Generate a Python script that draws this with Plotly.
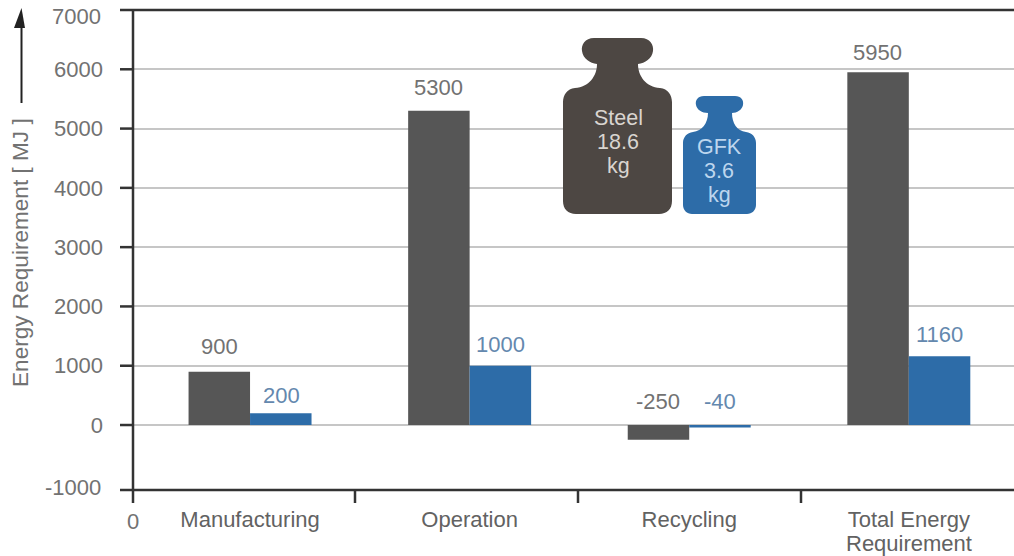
import plotly.graph_objects as go

# Energy requirement per life-cycle phase, in MJ
categories = ["Manufacturing", "Operation", "Recycling", "Total Energy"]
steel_values = [900, 5300, -250, 5950]
gfk_values = [200, 1000, -40, 1160]
inner_ticks = [6000, 5000, 4000, 3000, 2000, 1000, 0]

WIDTH, HEIGHT = 1014, 556
LEFT, TOP, BOTTOM = 133, 10, 490
FONT = "Liberation Sans"
GREY_BAR, BLUE_BAR = "#565656", "#2d6ca8"
AXIS = "#333333"
TEXT = "#727272"
DARK_TEXT = "#626262"
BLUE_TEXT = "#6488ae"
SIZE = 22


def px(x):
    return (x - LEFT) / (WIDTH - LEFT)


def py(y):
    return (BOTTOM - y) / (BOTTOM - TOP)


def weight_path(points):
    """Build an SVG path in paper coordinates from pixel-style segments."""
    parts = []
    for cmd, *coords in points:
        mapped = []
        for i in range(0, len(coords), 2):
            mapped.append(f"{px(coords[i]):.5f},{py(coords[i + 1]):.5f}")
        parts.append(cmd + " " + " ".join(mapped))
    return " ".join(parts) + " Z"


steel_shape = [
    ("M", 594, 38), ("L", 641, 38), ("C", 650, 38, 654, 45, 653, 51),
    ("C", 652, 59, 645, 63, 638, 64), ("C", 638, 76, 646, 87, 660, 88),
    ("C", 668, 89, 672, 95, 672, 102), ("L", 672, 201),
    ("C", 672, 209, 667, 214, 659, 214), ("L", 576, 214),
    ("C", 568, 214, 563, 209, 563, 201), ("L", 563, 102),
    ("C", 563, 95, 567, 89, 575, 88), ("C", 589, 87, 597, 76, 597, 64),
    ("C", 590, 63, 583, 59, 582, 51), ("C", 581, 45, 585, 38, 594, 38),
]
gfk_shape = [
    ("M", 704, 96), ("L", 735, 96), ("C", 741, 96, 744, 100, 743, 105),
    ("C", 742, 110, 737, 113, 732, 113), ("C", 732, 123, 737, 131, 746, 132),
    ("C", 752, 133, 756, 137, 756, 143), ("L", 756, 205),
    ("C", 756, 210, 752, 214, 747, 214), ("L", 692, 214),
    ("C", 687, 214, 683, 210, 683, 205), ("L", 683, 143),
    ("C", 683, 137, 687, 133, 693, 132), ("C", 702, 131, 708, 123, 708, 113),
    ("C", 702, 113, 697, 110, 696, 105), ("C", 695, 100, 698, 96, 704, 96),
]

fig = go.Figure()
fig.add_bar(x=categories, y=steel_values, name="Steel", marker_color=GREY_BAR, marker_line_width=0)
fig.add_bar(x=categories, y=gfk_values, name="GFK", marker_color=BLUE_BAR, marker_line_width=0)

shapes = [
    # frame: top rule, bottom rule and the vertical axis with its lower stub
    dict(type="line", xref="paper", yref="paper", x0=px(120), x1=1, y0=1, y1=1,
         line=dict(color=AXIS, width=2.5)),
    dict(type="line", xref="paper", yref="paper", x0=px(120), x1=1, y0=0, y1=0,
         line=dict(color=AXIS, width=2.5)),
    dict(type="line", xref="paper", yref="paper", x0=0, x1=0, y0=py(503), y1=1,
         line=dict(color=AXIS, width=2.5)),
    # upward arrow shaft next to the axis title
    dict(type="line", xref="paper", yref="paper", x0=px(21.5), x1=px(21.5), y0=py(103), y1=py(22),
         line=dict(color="#222222", width=2)),
    dict(type="path", xref="paper", yref="paper", line_width=0, fillcolor="#222222",
         path=weight_path([("M", 21.5, 8), ("L", 25, 28), ("L", 14, 28)])),
    # weight icons
    dict(type="path", xref="paper", yref="paper", fillcolor="#4d4743", line_width=0,
         path=weight_path(steel_shape), layer="above"),
    dict(type="path", xref="paper", yref="paper", fillcolor="#2d6ca8", line_width=0,
         path=weight_path(gfk_shape), layer="above"),
]
# short tick stubs left of the axis
for v in inner_ticks:
    shapes.append(dict(type="line", xref="paper", yref="y", x0=px(120), x1=0, y0=v, y1=v,
                       line=dict(color=AXIS, width=2.5)))
# separators between the phases on the bottom rule
for sep in [355, 578, 801]:
    shapes.append(dict(type="line", xref="paper", yref="paper", x0=px(sep), x1=px(sep),
                       y0=py(503), y1=0, line=dict(color=AXIS, width=2.5)))

annotations = []


def value_label(cat, value, shift, color, rise):
    annotations.append(dict(x=cat, y=max(value, 0), xref="x", yref="y", text=str(value),
                            xshift=shift, yshift=rise, showarrow=False,
                            xanchor="center", yanchor="middle",
                            font=dict(family=FONT, size=SIZE, color=color)))


rises_steel = [25, 23, 24, 20]
rises_gfk = [18, 21, 24, 22]
for cat, s, g, rs, rg in zip(categories, steel_values, gfk_values, rises_steel, rises_gfk):
    value_label(cat, s, -31, TEXT, rs)
    value_label(cat, g, 31, BLUE_TEXT, rg)


def free_text(x, y, text, color=TEXT, size=SIZE, angle=0, anchor="center"):
    annotations.append(dict(x=px(x), y=py(y), xref="paper", yref="paper", text=text, showarrow=False,
                            textangle=angle, xanchor=anchor, yanchor="middle",
                            font=dict(family=FONT, size=size, color=color)))


free_text(103, 17, "7000", anchor="right")
free_text(103, 487, "-1000", anchor="right")
free_text(133, 521, "0")
free_text(909, 543, "Requirement", color=DARK_TEXT)
free_text(20, 253, "Energy Requirement [ MJ ]", size=22.6, angle=-90)
for i, line in enumerate(["Steel", "18.6", "kg"]):
    free_text(618, 118 + 24 * i, line, color="#d9d5d0", size=21.5)
for i, line in enumerate(["GFK", "3.6", "kg"]):
    free_text(719, 147 + 24 * i, line, color="#bdd6ee", size=21.5)

fig.update_layout(
    width=WIDTH, height=HEIGHT, autosize=False,
    margin=dict(l=LEFT, r=0, t=TOP, b=HEIGHT - BOTTOM, pad=0),
    paper_bgcolor="white", plot_bgcolor="white",
    barmode="group", bargap=0.44, bargroupgap=0,
    showlegend=False,
    shapes=shapes, annotations=annotations,
    font=dict(family=FONT, size=SIZE, color=TEXT),
    xaxis=dict(type="category", categoryorder="array", categoryarray=categories,
               tickmode="array", tickvals=categories, ticktext=categories,
               range=[-0.533, 3.479], showgrid=False, zeroline=False, showline=False,
               ticks="outside", ticklen=10, tickcolor="rgba(0,0,0,0)", tickwidth=1,
               tickfont=dict(family=FONT, size=SIZE, color=DARK_TEXT)),
    yaxis=dict(range=[-1096, 7000], tickmode="array", tickvals=inner_ticks,
               showgrid=True, gridcolor="#c6c6c6", gridwidth=2, zeroline=False, showline=False,
               ticks="", ticklabelstandoff=29,
               tickfont=dict(family=FONT, size=SIZE, color=TEXT)),
)

fig.write_html("out.html", config=dict(displayModeBar=False))
